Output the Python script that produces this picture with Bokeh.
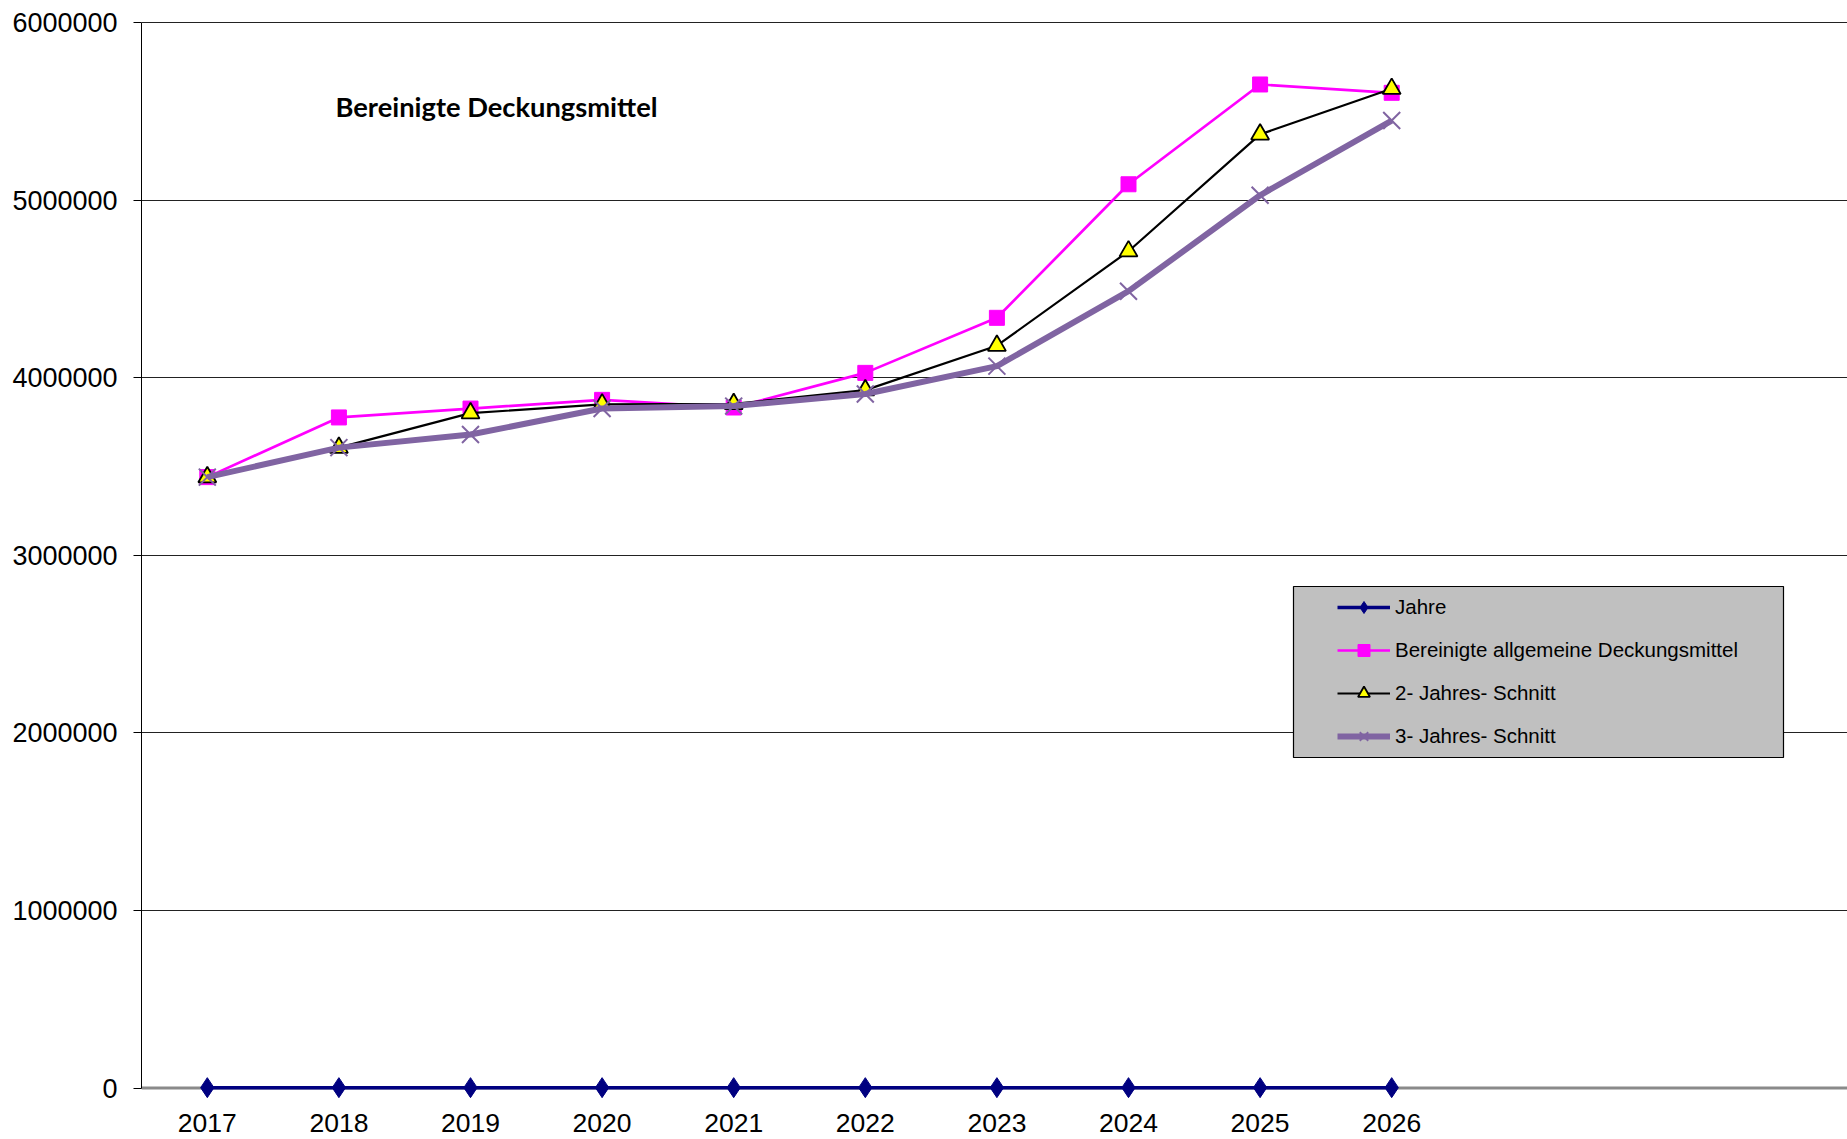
from bokeh.plotting import figure
from bokeh.models import (Range1d, FixedTicker, NumeralTickFormatter, Span, Legend,
                          LegendItem, Label, BoxAnnotation)
from bokeh.embed import file_html
from bokeh.resources import INLINE

# ---- data ----
years = [2017, 2018, 2019, 2020, 2021, 2022, 2023, 2024, 2025, 2026]
jahre = [2017, 2018, 2019, 2020, 2021, 2022, 2023, 2024, 2025, 2026]
bereinigt = [3440000, 3776000, 3826000, 3875000, 3832000, 4027000, 4337000, 5089000, 5651000, 5604000]
schnitt2 = [3440000, 3606000, 3800000, 3850000, 3852000, 3930000, 4180000, 4712000, 5370000, 5627000]
schnitt3 = [3440000, 3606000, 3680000, 3826000, 3840000, 3908000, 4065000, 4487000, 5027000, 5448000]
y_ticks = [0, 1000000, 2000000, 3000000, 4000000, 5000000, 6000000]
title_text = "Bereinigte Deckungsmittel"
names = ["Jahre", "Bereinigte allgemeine Deckungsmittel", "2- Jahres- Schnitt", "3- Jahres- Schnitt"]

# ---- layout constants (pixels, page coordinates) ----
W, H = 1847, 1139
LEFT, TOP = 141, 18
FRAME_H = 1080
FRAME_B = TOP + FRAME_H
PX_Y0 = 1087.5 - TOP        # pixel of value 0 inside frame (from frame top)
PX_Y6 = 22 - TOP            # pixel of 6 000 000
upp = 6000000 / (PX_Y0 - PX_Y6)   # units per pixel (y)
y_start = -(FRAME_H - PX_Y0) * upp
y_end = 6000000 + PX_Y6 * upp
dx = 131.6                  # pixels per year
x_start = 2016.5
x_end = x_start + (W - LEFT) / dx


def xd(px):
    return x_start + (px - LEFT) / dx


def yd(py):
    return (PX_Y0 - (py - TOP)) * upp


p = figure(width=W, height=H, output_backend="svg", toolbar_location=None,
           x_range=Range1d(x_start, x_end), y_range=Range1d(y_start, y_end),
           min_border_left=LEFT, min_border_top=TOP, min_border_right=0,
           min_border_bottom=H - FRAME_B)
p.outline_line_color = None
p.background_fill_color = "white"
p.border_fill_color = "white"

# grid
p.xgrid.visible = False
p.ygrid.ticker = FixedTicker(ticks=y_ticks[1:])
p.ygrid.grid_line_color = "#222222"
p.ygrid.grid_line_width = 1

# zero line (x axis)
p.add_layout(Span(location=0, dimension="width", line_color="#8a8a8a", line_width=3, level="underlay"))

# y axis
yax = p.yaxis[0]
yax.ticker = FixedTicker(ticks=y_ticks)
yax.formatter = NumeralTickFormatter(format="0")
yax.bounds = (0, 6000000)
yax.axis_line_color = "black"
yax.axis_line_width = 1
yax.major_tick_out = 8
yax.major_tick_in = 0
yax.major_tick_line_color = "black"
yax.minor_tick_line_color = None
yax.major_label_standoff = 16
yax.major_label_text_font = "Liberation Sans"
yax.major_label_text_font_size = "27px"
yax.major_label_text_color = "black"

# x axis
xax = p.xaxis[0]
xax.ticker = FixedTicker(ticks=years)
xax.formatter = NumeralTickFormatter(format="0")
xax.axis_line_color = None
xax.major_tick_line_color = None
xax.minor_tick_line_color = None
xax.major_label_standoff = 9
xax.major_label_text_font = "Liberation Sans"
xax.major_label_text_font_size = "26.5px"
xax.major_label_text_color = "black"

# series
l1 = p.line(years, jahre, line_color="#000080", line_width=3.5)
s1 = p.scatter(years, jahre, marker="diamond", size=20, fill_color="#000080", line_color="#000080")

l2 = p.line(years, bereinigt, line_color="#FF00FF", line_width=2.7)
s2 = p.scatter(years, bereinigt, marker="square", size=15, fill_color="#FF00FF", line_color="#FF00FF")

l3 = p.line(years, schnitt2, line_color="black", line_width=2.2)
s3 = p.scatter(years, schnitt2, marker="triangle", size=18, fill_color="#FFFF00", line_color="black", line_width=1.8)

l4 = p.line(years, schnitt3, line_color="#8064A2", line_width=6)
s4 = p.scatter(years, schnitt3, marker="x", size=24, line_color="#8064A2", line_width=2)

# title inside plot area
p.add_layout(Label(x=xd(335), y=yd(106),
                   text=title_text, text_font="Lato", text_font_style="bold",
                   text_font_size="27.3px", text_color="black", text_baseline="middle"))

# legend box
p.add_layout(BoxAnnotation(left=xd(1293), right=xd(1783), top=yd(586), bottom=yd(757),
                           fill_color="#C0C0C0", fill_alpha=1.0,
                           line_color="black", line_width=1.2, line_alpha=1.0))

legend = Legend(items=[LegendItem(label=names[0], renderers=[l1, s1]),
                       LegendItem(label=names[1], renderers=[l2, s2]),
                       LegendItem(label=names[2], renderers=[l3, s3]),
                       LegendItem(label=names[3], renderers=[l4, s4])],
                location=(1337 - LEFT, FRAME_B - 751),
                padding=0, margin=0, spacing=13, glyph_width=53, glyph_height=30,
                label_height=30, label_standoff=5,
                label_text_font="Liberation Sans", label_text_font_size="20.5px",
                label_text_color="black",
                background_fill_alpha=0, border_line_color=None)
p.add_layout(legend, "center")

open("out.html", "w").write(file_html(p, INLINE))
